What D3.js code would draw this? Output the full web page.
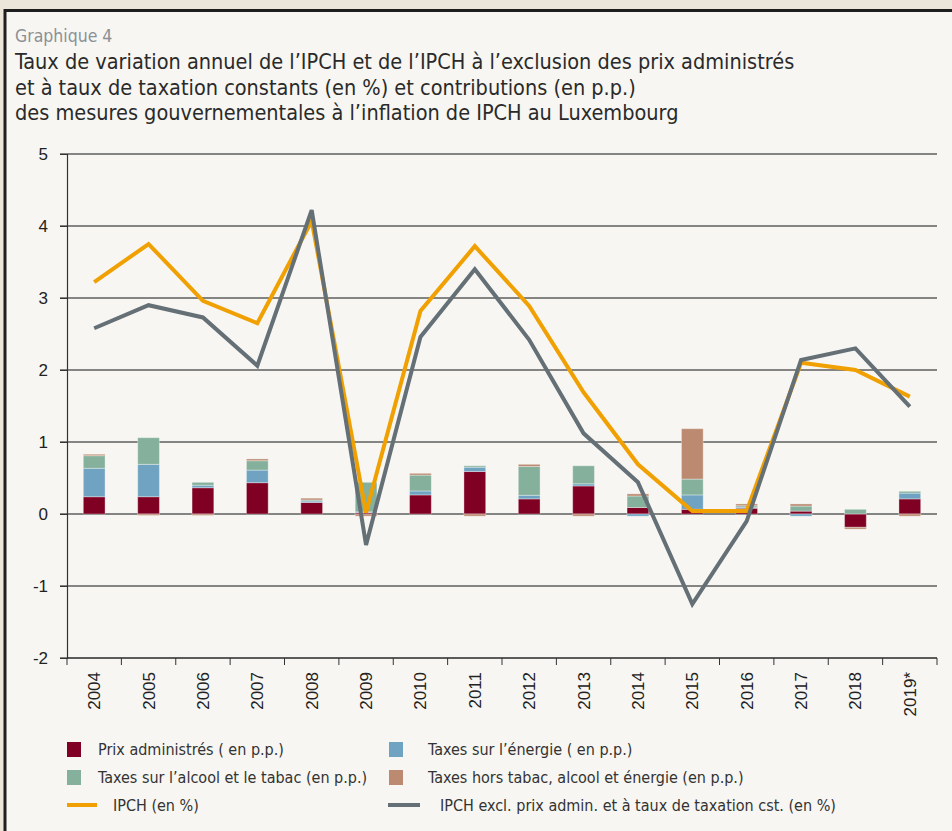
<!DOCTYPE html>
<html>
<head>
<meta charset="utf-8">
<script src="https://cdn.jsdelivr.net/npm/d3@7"></script>
<style>
  body { margin: 0; background: #ece5d9; }
  svg { display: block; }
</style>
</head>
<body>
<div id="wrapper"></div>
<script>
const years = ["2004","2005","2006","2007","2008","2009","2010","2011","2012","2013","2014","2015","2016","2017","2018","2019*"]

// contributions (p.p.)
const prixAdmin   = [0.24, 0.24, 0.365, 0.435, 0.16, 0.02, 0.265, 0.59, 0.21, 0.39, 0.09, 0.065, 0.08, 0.04, -0.185, 0.21]
const taxesEnergie= [0.395, 0.45, 0.035, 0.175, 0.02, 0.01, 0.055, 0.06, 0.05, 0.03, -0.03, 0.20, 0.015, -0.03, 0.0, 0.08]
const taxesAlcool = [0.175, 0.37, 0.04, 0.13, 0.015, 0.41, 0.22, 0.02, 0.40, 0.25, 0.16, 0.22, 0.02, 0.07, 0.065, 0.025]
const taxesHors   = [0.02, -0.02, -0.02, 0.025, 0.025, -0.03, 0.025, -0.03, 0.03, -0.03, 0.03, 0.70, 0.025, 0.03, -0.025, -0.03]

// lines (%)
const ipch     = [3.22, 3.75, 2.96, 2.65, 4.07, 0.02, 2.82, 3.72, 2.89, 1.69, 0.69, 0.04, 0.04, 2.1, 2.0, 1.63]
const ipchExcl = [2.58, 2.9, 2.73, 2.06, 4.22, -0.43, 2.46, 3.4, 2.42, 1.12, 0.44, -1.25, -0.1, 2.14, 2.3, 1.49]

const yTicks = [5, 4, 3, 2, 1, 0, -1, -2]

const seriesKeys = ["prix", "energie", "alcool", "hors"]
const seriesLabels = {
    prix: "Prix administrés ( en p.p.)",
    energie: "Taxes sur l’énergie ( en p.p.)",
    alcool: "Taxes sur l’alcool et le tabac (en p.p.)",
    hors: "Taxes hors tabac, alcool et énergie (en p.p.)"
}
const colors = { prix: "#7f0022", energie: "#6fa3c1", alcool: "#85b09b", hors: "#bb8a70" }
const lineColors = { ipch: "#f0a000", excl: "#646f76" }

const table = years.map((y, i) => ({
    year: y,
    prix: prixAdmin[i],
    energie: taxesEnergie[i],
    alcool: taxesAlcool[i],
    hors: taxesHors[i]
}))

const width = 952, height = 831
const plot = { left: 67, right: 937, top: 154, bottom: 658 }
const condensed = "'Liberation Sans Narrow', 'DejaVu Sans Condensed', 'Roboto', sans-serif"

const svg = d3.select("#wrapper").append("svg")
    .attr("width", width)
    .attr("height", height)

svg.append("rect")
    .attr("x", 5).attr("y", 10.5)
    .attr("width", 980).attr("height", 860)
    .attr("fill", "#f7f6f2")
    .attr("stroke", "#1e1e1e")
    .attr("stroke-width", 3)

// titles
svg.append("text")
    .attr("x", 15).attr("y", 42)
    .attr("fill", "#8b9096")
    .style("font-family", condensed)
    .style("font-size", "17.5px")
    .text("Graphique 4")

const titleLines = [
    "Taux de variation annuel de l’IPCH et de l’IPCH à l’exclusion des prix administrés",
    "et à taux de taxation constants (en %) et contributions (en p.p.)",
    "des mesures gouvernementales à l’inflation de IPCH au Luxembourg"
]
svg.append("g").selectAll("text")
    .data(titleLines)
    .enter().append("text")
    .attr("x", 15)
    .attr("y", (d, i) => 69 + i * 25.5)
    .attr("fill", "#2a2a2a")
    .style("font-family", condensed)
    .style("font-size", "21.5px")
    .text(d => d)

const xScale = d3.scaleBand()
    .domain(years)
    .range([plot.left, plot.right])
    .paddingInner(0.6)
    .paddingOuter(0.3)

const yScale = d3.scaleLinear()
    .domain([-2, 5])
    .range([plot.bottom, plot.top])

const center = d => xScale(d) + xScale.bandwidth() / 2

// gridlines
svg.append("g").selectAll("line")
    .data(yTicks)
    .enter().append("line")
    .attr("x1", plot.left - 7)
    .attr("x2", plot.right)
    .attr("y1", d => yScale(d))
    .attr("y2", d => yScale(d))
    .attr("stroke", "#5e5e5e")
    .attr("stroke-width", 1.5)

// y axis
const yAxis = svg.append("g")
    .attr("transform", `translate(${plot.left},0)`)
    .call(d3.axisLeft(yScale).tickValues(yTicks).tickSize(7).tickFormat(d => String(d)))
yAxis.select(".domain").attr("stroke", "#333").attr("stroke-width", 1.2)
yAxis.selectAll(".tick line").attr("stroke", "#333")
yAxis.selectAll(".tick text")
    .attr("x", -19)
    .attr("fill", "#222")
    .style("font-family", "'Liberation Sans', Arial, sans-serif")
    .style("font-size", "17px")

// x axis with ticks at category boundaries
const boundaries = d3.range(years.length + 1).map(i => plot.left + (plot.right - plot.left) * i / years.length)
svg.append("line")
    .attr("x1", plot.left).attr("x2", plot.right)
    .attr("y1", plot.bottom).attr("y2", plot.bottom)
    .attr("stroke", "#333").attr("stroke-width", 1.2)
svg.append("g").selectAll("line")
    .data(boundaries)
    .enter().append("line")
    .attr("x1", d => d).attr("x2", d => d)
    .attr("y1", plot.bottom).attr("y2", plot.bottom + 7)
    .attr("stroke", "#333")
svg.append("g").selectAll("text")
    .data(years)
    .enter().append("text")
    .attr("transform", d => `translate(${center(d) + 6},${plot.bottom + 14}) rotate(-90)`)
    .attr("text-anchor", "end")
    .attr("fill", "#222")
    .style("font-family", "'Liberation Sans', Arial, sans-serif")
    .style("font-size", "17px")
    .text(d => d)

// stacked bars
const stacked = d3.stack()
    .keys(seriesKeys)
    .offset(d3.stackOffsetDiverging)(table)

svg.append("g").selectAll("g")
    .data(stacked)
    .enter().append("g")
    .attr("fill", d => colors[d.key])
    .selectAll("rect")
    .data(d => d)
    .enter().append("rect")
    .attr("x", d => xScale(d.data.year))
    .attr("width", xScale.bandwidth())
    .attr("y", d => yScale(Math.max(d[0], d[1])))
    .attr("height", d => Math.abs(yScale(d[0]) - yScale(d[1])))
    .attr("stroke", "#ffffff")
    .attr("stroke-opacity", 0.35)
    .attr("stroke-width", 1)

// lines
const lineGen = d3.line()
    .x((d, i) => center(years[i]))
    .y(d => yScale(d))

svg.append("path")
    .datum(ipch)
    .attr("d", lineGen)
    .attr("fill", "none")
    .attr("stroke", lineColors.ipch)
    .attr("stroke-width", 4)

svg.append("path")
    .datum(ipchExcl)
    .attr("d", lineGen)
    .attr("fill", "none")
    .attr("stroke", lineColors.excl)
    .attr("stroke-width", 4)

// legend
const legend = svg.append("g")
const legendItems = [
    { key: "prix", col: 0, row: 0 },
    { key: "energie", col: 1, row: 0 },
    { key: "alcool", col: 0, row: 1 },
    { key: "hors", col: 1, row: 1 }
]
const colX = [67, 389]
const colTextX = [98, 428]
const rowY = [749, 777, 805]

legend.selectAll("rect")
    .data(legendItems)
    .enter().append("rect")
    .attr("x", d => colX[d.col])
    .attr("y", d => rowY[d.row] - 7)
    .attr("width", 14)
    .attr("height", 15)
    .attr("fill", d => colors[d.key])

legend.selectAll("text.bar")
    .data(legendItems)
    .enter().append("text")
    .attr("class", "bar")
    .attr("x", d => colTextX[d.col])
    .attr("y", d => rowY[d.row] + 6)
    .attr("fill", "#333")
    .style("font-family", condensed)
    .style("font-size", "16px")
    .text(d => seriesLabels[d.key])

const lineItems = [
    { label: "IPCH (en %)", color: lineColors.ipch, x1: 67, x2: 97, tx: 113 },
    { label: "IPCH excl. prix admin. et à taux de taxation cst. (en %)", color: lineColors.excl, x1: 388, x2: 420, tx: 440 }
]
legend.selectAll("line")
    .data(lineItems)
    .enter().append("line")
    .attr("x1", d => d.x1).attr("x2", d => d.x2)
    .attr("y1", rowY[2]).attr("y2", rowY[2])
    .attr("stroke", d => d.color)
    .attr("stroke-width", 4)
legend.selectAll("text.ln")
    .data(lineItems)
    .enter().append("text")
    .attr("class", "ln")
    .attr("x", d => d.tx)
    .attr("y", rowY[2] + 6)
    .attr("fill", "#333")
    .style("font-family", condensed)
    .style("font-size", "16px")
    .text(d => d.label)
</script>
</body>
</html>
